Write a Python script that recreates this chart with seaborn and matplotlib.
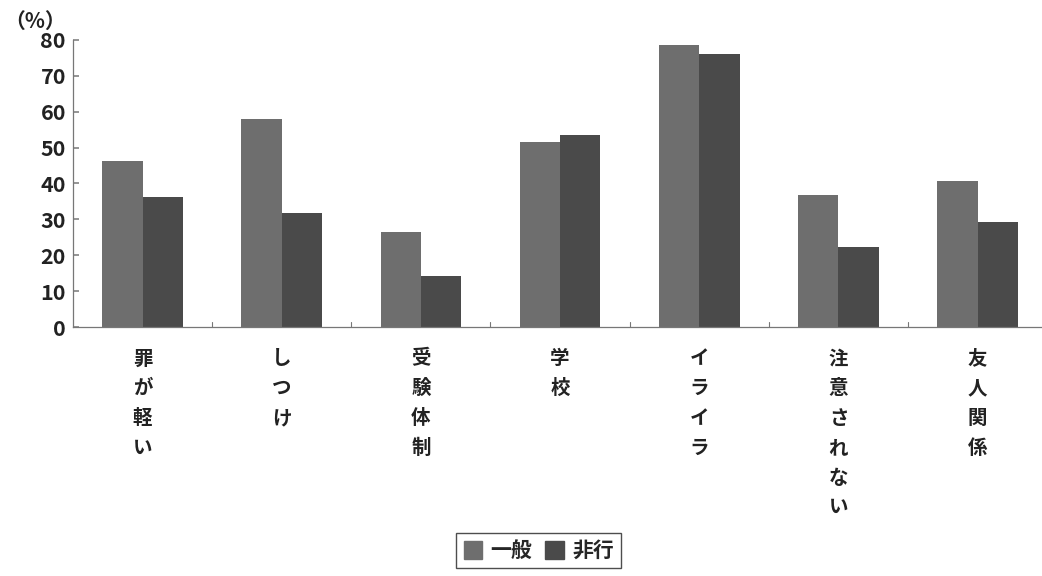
import pandas as pd
import numpy as np
import matplotlib.pyplot as plt
import seaborn as sns

categories = ["罪が軽い", "しつけ", "受験体制", "学校", "イライラ", "注意されない", "友人関係"]
general = [46.2, 57.9, 26.5, 51.5, 78.5, 36.8, 40.7]
delinquent = [36.2, 31.8, 14.2, 53.5, 76.0, 22.3, 29.2]
series_names = ["一般", "非行"]

sns.set_theme(style="white")
plt.rcParams['font.family'] = ['Noto Sans CJK JP', 'DejaVu Sans']

df = pd.DataFrame({
    "category": categories * 2,
    "value": general + delinquent,
    "group": [series_names[0]] * len(categories) + [series_names[1]] * len(categories),
})

fig = plt.figure(figsize=(10.42, 5.76), dpi=100)
ax = fig.add_axes([0.07, 0.432, 0.935, 0.499])

palette = {"一般": "#6e6e6e", "非行": "#4a4a4a"}
sns.barplot(data=df, x="category", y="value", hue="group", palette=palette,
            width=0.58, gap=0, saturation=1, linewidth=0, ax=ax, legend=False)

ax.set_ylim(0, 80)
ax.set_xlim(-0.5, len(categories) - 0.5)
ax.set_yticks(range(0, 81, 10))
ax.set_yticklabels([str(v) for v in range(0, 81, 10)], fontsize=15.5, fontweight='bold', color='#222222')

# vertical category labels, one character per line
ax.set_xticks(range(len(categories)))
ax.set_xticklabels(["\n".join(c) for c in categories], fontsize=14, fontweight='bold',
                   color='#222222', va='top', linespacing=1.72)
ax.tick_params(axis='x', length=0, pad=16)
ax.tick_params(axis='y', direction='in', length=4, color='#888888', left=True, pad=5)

# group boundary ticks
for b in np.arange(0.5, len(categories) - 0.5, 1):
    ax.plot([b, b], [0, 1.5], color='#777777', lw=0.8, clip_on=False)

sns.despine(ax=ax, top=True, right=True)
for s in ['left', 'bottom']:
    ax.spines[s].set_color('#777777')
    ax.spines[s].set_linewidth(0.9)
ax.set_xlabel("")
ax.set_ylabel("")

fig.text(0.004, 0.962, "（%）", fontsize=15, fontweight='bold', color='#222222', va='center')

handles = [plt.Rectangle((0, 0), 1, 1, color=palette[n]) for n in series_names]
leg = fig.legend(handles, series_names, loc='lower center', bbox_to_anchor=(0.517, -0.005),
                 ncol=2, frameon=True, fancybox=False, edgecolor='#222222',
                 prop={'size': 15, 'weight': 'bold'}, handlelength=0.9, handleheight=0.9,
                 handletextpad=0.4, columnspacing=0.6, borderpad=0.35)
leg.get_frame().set_linewidth(1.0)

fig.savefig("out.png", dpi=100)
